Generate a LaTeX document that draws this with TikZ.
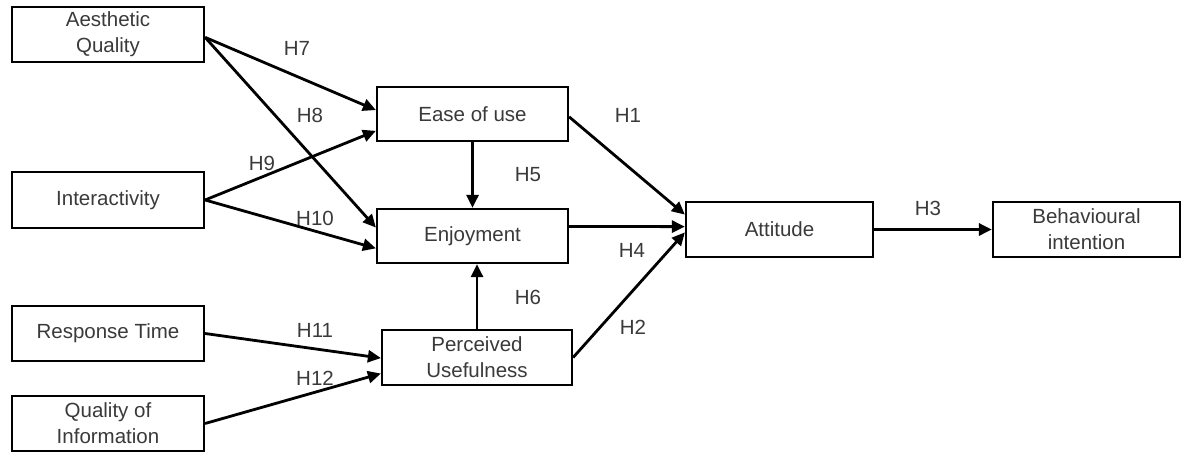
\documentclass[tikz,border=0pt]{standalone}
\usepackage{fontspec}
\setmainfont{Liberation Sans}
\usetikzlibrary{arrows.meta,calc}
\definecolor{txt}{HTML}{3A3A3A}
\begin{document}
\begin{tikzpicture}[x=1pt,y=-1pt,
  box/.style={draw=black,line width=2.2pt,fill=white,inner sep=0pt,align=center,
    text=txt,font=\fontsize{20.5}{26}\selectfont},
  conn/.style={line width=2.8pt,-{Triangle[length=13pt,width=12pt]}},
  hlab/.style={text=txt,font=\fontsize{20.5}{24}\selectfont,inner sep=0pt}]
\useasboundingbox (0,0) rectangle (1196,452);
\node[box,minimum width=192pt,minimum height=55pt] (aq) at (108,34.5) {Aesthetic\\Quality};
\node[box,minimum width=192pt,minimum height=56pt] (inter) at (108,200) {Interactivity};
\node[box,minimum width=192pt,minimum height=55pt] (rt) at (108,333.5) {Response Time};
\node[box,minimum width=192pt,minimum height=55pt] (qi) at (108,423.5) {Quality of\\Information};
\node[box,minimum width=191pt,minimum height=54pt] (ease) at (472.5,114) {Ease of use};
\node[box,minimum width=191pt,minimum height=54pt] (enj) at (472.5,236) {Enjoyment};
\node[box,minimum width=190pt,minimum height=55pt] (pu) at (477,357.5) {Perceived\\Usefulness};
\node[box,minimum width=187pt,minimum height=55pt] (att) at (779.5,229.5) {Attitude};
\node[box,minimum width=187pt,minimum height=55pt] (bi) at (1086.5,229.5) {Behavioural\\intention};

\coordinate (aqo) at ($(aq.north east)!0.55!(aq.south east)$);
\coordinate (into) at (inter.east);
\draw[conn] (aqo) -- ($(ease.north west)!0.43!(ease.south west)$);
\draw[conn] (aqo) -- ($(enj.north west)!0.35!(enj.south west)$);
\draw[conn] (into) -- ($(ease.north west)!0.80!(ease.south west)$);
\draw[conn] (into) -- ($(enj.north west)!0.72!(enj.south west)$);
\draw[conn] (rt.east) -- ($(pu.north west)!0.51!(pu.south west)$);
\draw[conn] ($(qi.north east)!0.5!(qi.south east)$) -- ($(pu.north west)!0.78!(pu.south west)$);
\draw[conn] ($(ease.north east)!0.55!(ease.south east)$) -- ($(att.north west)!0.24!(att.south west)$);
\draw[conn] (ease.south) -- (enj.north);
\draw[conn] ($(enj.north east)!0.33!(enj.south east)$) -- ($(att.north west)!0.45!(att.south west)$);
\draw[conn] (pu.north) -- (pu.north |- enj.south);
\draw[conn] ($(pu.north east)!0.5!(pu.south east)$) -- ($(att.north west)!0.55!(att.south west)$);
\draw[conn] (att.east) -- (bi.west);

\node[hlab] (h7) at (297,48) {H7};
\node[hlab] (h8) at (310,115) {H8};
\node[hlab] (h9) at (262,163) {H9};
\node[hlab] (h10) at (315,218) {H10};
\node[hlab] (h11) at (315,330) {H11};
\node[hlab] (h12) at (315,378) {H12};
\node[hlab] (h1) at (628,115) {H1};
\node[hlab] (h5) at (528,175) {H5};
\node[hlab] (h4) at (632,250) {H4};
\node[hlab] (h6) at (528,297) {H6};
\node[hlab] (h2) at (633,327) {H2};
\node[hlab] (h3) at (928,208) {H3};
\end{tikzpicture}
\end{document}
